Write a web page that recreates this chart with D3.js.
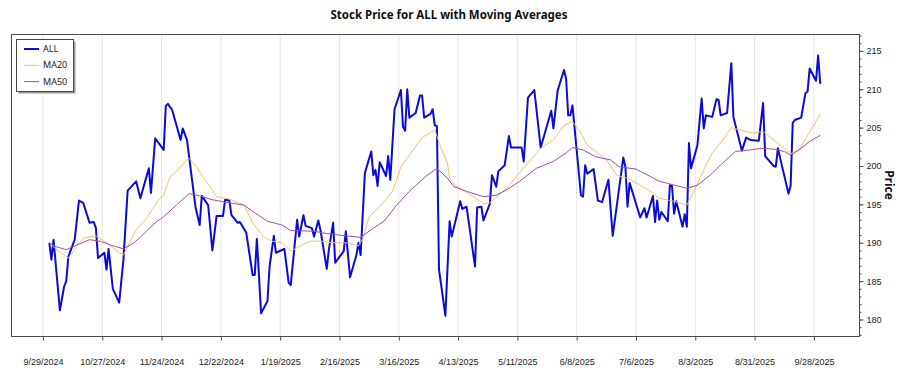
<!DOCTYPE html>
<html>
<head>
<meta charset="utf-8">
<script src="https://cdn.jsdelivr.net/npm/d3@7"></script>
<style>
  body { margin: 0; background: #fff; }
  svg { font-family: "Noto Sans", "Open Sans", sans-serif; }
</style>
</head>
<body>
<div id="chart"></div>
<script>
// Stock price for ALL with 20 / 50 day moving averages

var width = 900;
var height = 375;
var plotLeft = 11, plotRight = 859, plotTop = 34, plotBottom = 336;

// closing prices
var priceDates = [
  "2024-10-02","2024-10-03","2024-10-04","2024-10-07","2024-10-09","2024-10-10","2024-10-11","2024-10-14","2024-10-16","2024-10-18",
  "2024-10-21","2024-10-23","2024-10-24","2024-10-25","2024-10-28","2024-10-29","2024-10-30","2024-11-01","2024-11-04","2024-11-06",
  "2024-11-08","2024-11-12","2024-11-14","2024-11-18","2024-11-19","2024-11-21","2024-11-25","2024-11-26","2024-11-27","2024-11-29",
  "2024-12-03","2024-12-04","2024-12-06","2024-12-10","2024-12-12","2024-12-13","2024-12-16","2024-12-18","2024-12-20","2024-12-23",
  "2024-12-24","2024-12-26","2024-12-27","2024-12-30","2024-12-31","2025-01-03","2025-01-06","2025-01-07","2025-01-08","2025-01-10",
  "2025-01-13","2025-01-14","2025-01-16","2025-01-17","2025-01-21","2025-01-23","2025-01-24","2025-01-27","2025-01-28","2025-01-30",
  "2025-01-31","2025-02-03","2025-02-04","2025-02-06","2025-02-07","2025-02-10","2025-02-11","2025-02-13","2025-02-14","2025-02-18",
  "2025-02-19","2025-02-21","2025-02-24","2025-02-25","2025-02-26","2025-02-28","2025-03-03","2025-03-04","2025-03-05","2025-03-06",
  "2025-03-07","2025-03-10","2025-03-11","2025-03-12","2025-03-14","2025-03-17","2025-03-18","2025-03-19","2025-03-20","2025-03-21",
  "2025-03-24","2025-03-26","2025-03-27","2025-03-28","2025-03-31","2025-04-01","2025-04-02","2025-04-03","2025-04-04","2025-04-07",
  "2025-04-09","2025-04-10","2025-04-14","2025-04-15","2025-04-17","2025-04-21","2025-04-22","2025-04-24","2025-04-25","2025-04-28",
  "2025-04-29","2025-05-01","2025-05-02","2025-05-05","2025-05-07","2025-05-08","2025-05-13","2025-05-14","2025-05-16","2025-05-19",
  "2025-05-22","2025-05-27","2025-05-28","2025-05-30","2025-06-02","2025-06-03","2025-06-04","2025-06-05","2025-06-06","2025-06-10",
  "2025-06-11","2025-06-12","2025-06-13","2025-06-16","2025-06-18","2025-06-20","2025-06-23","2025-06-25","2025-06-30","2025-07-01",
  "2025-07-02","2025-07-03","2025-07-08","2025-07-10","2025-07-11","2025-07-14","2025-07-15","2025-07-16","2025-07-17","2025-07-18",
  "2025-07-21","2025-07-22","2025-07-23","2025-07-24","2025-07-25","2025-07-28","2025-07-29","2025-07-30","2025-07-31","2025-08-01",
  "2025-08-04","2025-08-06","2025-08-07","2025-08-08","2025-08-11","2025-08-13","2025-08-14","2025-08-15","2025-08-18","2025-08-20",
  "2025-08-21","2025-08-25","2025-08-27","2025-08-29","2025-09-02","2025-09-04","2025-09-05","2025-09-09","2025-09-10","2025-09-11",
  "2025-09-16","2025-09-17","2025-09-18","2025-09-19","2025-09-22","2025-09-24","2025-09-25","2025-09-26","2025-09-29","2025-09-30",
  "2025-10-01"
];
var priceValues = [
  190.0, 187.8, 190.4, 181.2, 184.3, 185.0, 188.2, 190.4, 195.5, 195.2,
  192.6, 192.7, 191.9, 188.0, 188.7, 186.5, 189.2, 184.0, 182.2, 187.8,
  196.8, 198.0, 195.8, 199.7, 196.5, 203.6, 202.1, 207.8, 208.1, 207.3,
  203.4, 204.9, 203.4, 194.7, 192.3, 196.1, 194.9, 189.0, 193.5, 193.5,
  195.6, 195.5, 193.6, 192.6, 192.7, 191.3, 185.8, 185.8, 190.5, 180.8,
  182.4, 186.9, 190.9, 188.7, 189.2, 184.8, 184.5, 193.0, 190.8, 193.6,
  192.2, 191.9, 190.8, 192.9, 191.7, 186.6, 189.1, 192.6, 187.4, 188.9,
  191.5, 185.5, 188.4, 190.0, 188.4, 199.1, 201.9, 198.8, 199.5, 197.4,
  200.5, 198.7, 201.3, 198.2, 207.4, 209.9, 205.1, 204.6, 210.0, 206.3,
  206.9, 209.2, 209.2, 206.3, 206.8, 207.4, 205.3, 205.2, 186.5, 180.5,
  192.8, 190.8, 195.4, 194.4, 194.7, 186.9, 194.6, 194.7, 192.9, 195.1,
  198.8, 197.3, 199.3, 200.1, 203.9, 202.4, 202.4, 200.6, 208.9, 209.9,
  202.4, 207.2, 204.9, 209.8, 212.5, 211.4, 206.6, 206.6, 207.9, 196.2,
  196.0, 200.1, 199.0, 199.6, 195.5, 195.3, 198.2, 190.9, 201.1, 199.9,
  194.7, 197.8, 193.3, 194.5, 193.3, 196.1, 192.7, 195.5, 193.0, 194.0,
  192.8, 197.5, 197.4, 193.8, 195.4, 192.1, 193.7, 192.1, 203.0, 199.7,
  202.7, 208.8, 204.9, 206.6, 206.4, 208.7, 208.6, 206.6, 206.9, 213.4,
  206.4, 202.0, 203.7, 203.4, 203.3, 208.2, 201.3, 200.0, 199.9, 202.3,
  196.4, 197.4, 205.6, 206.0, 206.3, 209.5, 209.7, 212.7, 211.1, 214.4,
  210.7
];

// 20 day moving average
var ma20Dates = [
  "2024-10-02","2024-10-05","2024-10-11","2024-10-15","2024-10-18","2024-10-24","2024-10-29","2024-11-04","2024-11-06","2024-11-09",
  "2024-11-12","2024-11-17","2024-11-22","2024-11-25","2024-11-28","2024-12-01","2024-12-06","2024-12-07","2024-12-10","2024-12-14",
  "2024-12-17","2024-12-20","2024-12-26","2025-01-02","2025-01-06","2025-01-11","2025-01-15","2025-01-20","2025-01-24","2025-01-28",
  "2025-02-02","2025-02-07","2025-02-13","2025-02-19","2025-02-25","2025-02-27","2025-03-02","2025-03-07","2025-03-13","2025-03-15",
  "2025-03-17","2025-03-21","2025-03-27","2025-04-02","2025-04-05","2025-04-08","2025-04-09","2025-04-12","2025-04-14","2025-04-19",
  "2025-04-25","2025-04-28","2025-05-06","2025-05-11","2025-05-16","2025-05-22","2025-05-28","2025-06-02","2025-06-06","2025-06-10",
  "2025-06-13","2025-06-17","2025-06-22","2025-06-27","2025-07-02","2025-07-08","2025-07-14","2025-07-17","2025-07-24","2025-07-30",
  "2025-08-02","2025-08-07","2025-08-11","2025-08-16","2025-08-20","2025-08-24","2025-08-30","2025-09-04","2025-09-09","2025-09-14",
  "2025-09-17","2025-09-21","2025-09-25","2025-09-28","2025-10-01"
];
var ma20Values = [
  190.0, 189.2, 188.0, 189.5, 190.6, 190.9, 190.0, 188.7, 188.4, 190.0,
  191.7, 193.2, 195.4, 196.2, 198.6, 199.3, 200.8, 201.0, 200.1, 198.4,
  197.3, 196.0, 195.7, 194.9, 192.6, 190.8, 190.2, 190.0, 188.9, 189.5,
  190.2, 190.2, 190.0, 190.0, 189.6, 190.6, 193.4, 194.7, 196.7, 198.2,
  199.9, 201.4, 203.7, 204.7, 202.3, 200.4, 198.4, 197.3, 197.1, 196.2,
  195.1, 195.2, 197.1, 198.8, 200.4, 202.3, 203.4, 205.3, 205.8, 204.3,
  202.7, 201.9, 200.8, 198.8, 198.4, 197.5, 196.5, 195.8, 195.4, 194.9,
  196.5, 199.5, 201.7, 203.4, 205.0, 204.7, 204.3, 204.5, 203.4, 202.3,
  201.6, 202.1, 204.0, 205.3, 206.8
];

// 50 day moving average
var ma50Dates = [
  "2024-10-02","2024-10-05","2024-10-10","2024-10-15","2024-10-21","2024-10-26","2024-10-31","2024-11-06","2024-11-11","2024-11-15",
  "2024-11-21","2024-11-25","2024-12-01","2024-12-07","2024-12-12","2024-12-18","2024-12-26","2025-01-02","2025-01-06","2025-01-13",
  "2025-01-20","2025-01-24","2025-02-04","2025-02-10","2025-02-16","2025-02-26","2025-03-04","2025-03-09","2025-03-15","2025-03-21",
  "2025-03-29","2025-04-03","2025-04-08","2025-04-11","2025-04-17","2025-04-25","2025-05-01","2025-05-06","2025-05-12","2025-05-20",
  "2025-05-28","2025-06-03","2025-06-06","2025-06-11","2025-06-17","2025-06-24","2025-06-28","2025-07-06","2025-07-13","2025-07-17",
  "2025-07-20","2025-07-30","2025-08-04","2025-08-10","2025-08-16","2025-08-22","2025-08-29","2025-09-03","2025-09-09","2025-09-14",
  "2025-09-17","2025-09-21","2025-09-26","2025-10-01"
];
var ma50Values = [
  190.0, 189.5, 189.1, 189.7, 190.4, 190.2, 189.7, 189.2, 190.0, 191.0,
  192.6, 193.4, 194.9, 196.4, 196.1, 195.6, 195.2, 194.9, 194.1, 192.8,
  192.3, 191.6, 191.5, 191.2, 191.0, 190.7, 191.9, 192.8, 194.9, 196.7,
  198.7, 199.7, 198.4, 197.3, 196.7, 196.0, 196.2, 196.9, 198.0, 199.7,
  200.6, 201.7, 202.4, 202.1, 201.2, 200.8, 199.9, 199.6, 198.6, 198.0,
  197.8, 197.1, 197.5, 198.8, 200.4, 201.9, 202.1, 202.3, 202.2, 201.9,
  201.4, 202.1, 203.2, 204.0
];

// axis ticks
var tickDates = ["2024-09-29","2024-10-27","2024-11-24","2024-12-22","2025-01-19","2025-02-16","2025-03-16",
                 "2025-04-13","2025-05-11","2025-06-08","2025-07-06","2025-08-03","2025-08-31","2025-09-28"];
var priceTicks = [180, 185, 190, 195, 200, 205, 210, 215];

var series = [
  {name: "ALL",  dates: priceDates, values: priceValues, color: "#0b0bd6", width: 2},
  {name: "MA20", dates: ma20Dates,  values: ma20Values,  color: "#f4c067", width: 1},
  {name: "MA50", dates: ma50Dates,  values: ma50Values,  color: "#a24fa6", width: 1}
];

var parseDate = d3.timeParse("%Y-%m-%d");

draw_chart();

function draw_chart() {
    var svg = d3.select("#chart")
                .append("svg")
                .attr("width", width)
                .attr("height", height);

    var x = d3.scaleTime()
              .domain([new Date(2024, 8, 13, 22), new Date(2025, 9, 19, 7)])
              .range([plotLeft, plotRight]);

    var y = d3.scaleLinear()
              .domain([177.85, 217.2])
              .range([plotBottom, plotTop]);

    var ticks = tickDates.map(parseDate);

    // vertical grid
    svg.append("g")
       .selectAll("line")
       .data(ticks)
       .enter()
       .append("line")
       .attr("x1", function(d) { return x(d); })
       .attr("x2", function(d) { return x(d); })
       .attr("y1", plotTop)
       .attr("y2", plotBottom)
       .attr("stroke", "#e6e6e6")
       .attr("stroke-width", 1);

    // frame
    svg.append("rect")
       .attr("x", plotLeft + 0.5)
       .attr("y", plotTop + 0.5)
       .attr("width", plotRight - plotLeft)
       .attr("height", plotBottom - plotTop)
       .attr("fill", "none")
       .attr("stroke", "#4a4a4a")
       .attr("stroke-width", 1);

    // x axis
    var xAxis = svg.append("g")
       .attr("transform", "translate(0," + (plotBottom + 0.5) + ")")
       .call(d3.axisBottom(x)
               .tickValues(ticks)
               .tickSize(4)
               .tickSizeOuter(0)
               .tickPadding(18)
               .tickFormat(d3.timeFormat("%-m/%-d/%Y")));
    xAxis.select(".domain").remove();
    xAxis.selectAll("line").attr("stroke", "#4a4a4a");
    xAxis.selectAll("text").attr("font-size", "9px").attr("fill", "#222").attr("font-family", null);

    // y axis, minor ticks first
    var yMinor = svg.append("g")
       .attr("transform", "translate(" + (plotRight + 0.5) + ",0)")
       .call(d3.axisRight(y).ticks(40).tickSize(2).tickSizeOuter(0).tickFormat(""));
    yMinor.select(".domain").remove();
    yMinor.selectAll("line").attr("stroke", "#4a4a4a");

    var yAxis = svg.append("g")
       .attr("transform", "translate(" + (plotRight + 0.5) + ",0)")
       .call(d3.axisRight(y).tickValues(priceTicks).tickSize(4).tickSizeOuter(0).tickPadding(3));
    yAxis.select(".domain").remove();
    yAxis.selectAll("line").attr("stroke", "#4a4a4a");
    yAxis.selectAll("text").attr("font-size", "9px").attr("fill", "#222").attr("font-family", null);

    // lines
    var line = d3.line()
                 .x(function(d) { return x(d[0]); })
                 .y(function(d) { return y(d[1]); });

    svg.append("g")
       .selectAll("path")
       .data(series)
       .enter()
       .append("path")
       .attr("fill", "none")
       .attr("stroke", function(d) { return d.color; })
       .attr("stroke-width", function(d) { return d.width; })
       .attr("stroke-linejoin", "round")
       .attr("d", function(d) {
           var pts = d.dates.map(function(s, i) { return [parseDate(s), d.values[i]]; });
           return line(pts);
       });

    // title and axis label
    svg.append("text")
       .attr("x", 449)
       .attr("y", 19)
       .attr("text-anchor", "middle")
       .attr("font-size", "11.5px")
       .attr("font-weight", "bold")
       .attr("fill", "#111")
       .text("Stock Price for ALL with Moving Averages");

    svg.append("text")
       .attr("transform", "translate(885,185) rotate(90)")
       .attr("text-anchor", "middle")
       .attr("font-size", "12px")
       .attr("font-weight", "bold")
       .attr("fill", "#111")
       .text("Price");

    // legend
    var lg = svg.append("g");
    lg.append("rect")
      .attr("x", 18.5).attr("y", 41.5)
      .attr("width", 57).attr("height", 52)
      .attr("fill", "#9a9a9a");
    lg.append("rect")
      .attr("x", 16.5).attr("y", 39.5)
      .attr("width", 57).attr("height", 52)
      .attr("fill", "#fff")
      .attr("stroke", "#444");

    var item = lg.selectAll(".item")
                 .data(series)
                 .enter()
                 .append("g")
                 .attr("transform", function(d, i) { return "translate(0," + (49 + i * 16.3) + ")"; });
    item.append("line")
        .attr("x1", 24).attr("x2", 39)
        .attr("stroke", function(d) { return d.color; })
        .attr("stroke-width", function(d) { return d.width; });
    item.append("text")
        .attr("x", 43)
        .attr("dy", "0.35em")
        .attr("font-size", "9px")
        .attr("fill", "#222")
        .text(function(d) { return d.name; });
}
</script>
</body>
</html>
